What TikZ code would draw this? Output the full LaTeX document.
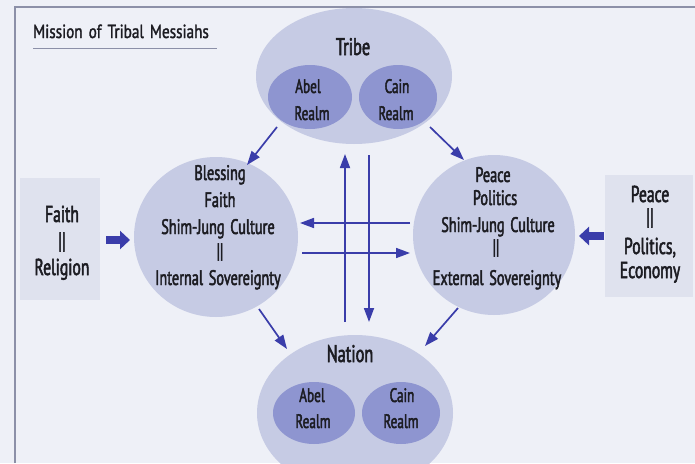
\documentclass[tikz,border=0pt]{standalone}
\usepackage{fontspec}
\setmainfont[FakeStretch=0.68,FakeBold=2.2,WordSpace=1.5]{PT Sans}
\newfontfamily\titlefont[FakeStretch=0.8,FakeBold=1.6,WordSpace=1.5]{PT Sans}
\usetikzlibrary{shapes.geometric,arrows.meta}
\definecolor{bgc}{HTML}{EEF0F7}
\definecolor{bigc}{HTML}{C6CBE4}
\definecolor{innc}{HTML}{8E95D0}
\definecolor{boxc}{HTML}{DFE2EE}
\definecolor{arrc}{HTML}{3A3DAA}
\definecolor{framec}{HTML}{8C90A8}
\definecolor{txtc}{HTML}{1C1C22}
\tikzset{
  big/.style={ellipse,fill=bigc,draw=none,inner sep=0pt},
  inner/.style={ellipse,fill=innc,draw=none,inner sep=0pt},
  lbl/.style={text=txtc,font=\fontsize{21}{25}\selectfont,inner sep=0pt,anchor=base},
  realm/.style={lbl,font=\fontsize{19.5}{25}\selectfont},
  head/.style={lbl,font=\fontsize{24}{28}\selectfont},
  boxtxt/.style={lbl,font=\fontsize{23}{27}\selectfont},
  thin/.style={draw=arrc,line width=1.7pt,-{Triangle[width=10pt,length=14pt]}},
  fat/.style={draw=arrc,line width=8pt,-{Triangle[width=18pt,length=10pt]}},
  boxst/.style={fill=boxc,draw=none,inner sep=0pt}
}
\begin{document}
\begin{tikzpicture}[x=1pt,y=-1pt]
\useasboundingbox (0,0) rectangle (695,463);
\fill[bgc] (0,0) rectangle (695,463);
% frame
\coordinate (fbl) at (15,463);
\coordinate (ftl) at (15,7);
\coordinate (ftr) at (695,7);
\draw[framec,line width=1.2pt] (fbl) -- (ftl) -- (ftr);
% title
\node[lbl,anchor=base west,font=\titlefont\fontsize{19}{22}\selectfont] (title) at (33,38) {Mission of Tribal Messiahs};
\coordinate (ul1) at (33,48);
\coordinate (ul2) at (217,48);
\draw[framec,line width=1pt] (ul1) -- (ul2);
% side boxes
\node[boxst,minimum width=80pt,minimum height=122pt] (fbox) at (60,239) {};
\node[boxtxt] (faith) at (62,222) {Faith};
\node[boxtxt,anchor=center] (fbar) at (62,242) {||};
\node[boxtxt] (relig) at (62,275) {Religion};
\node[boxst,minimum width=88pt,minimum height=122pt] (pbox) at (649,236) {};
\node[boxtxt] (ppeace) at (650,202) {Peace};
\node[boxtxt,anchor=center] (pbar) at (650,218) {||};
\node[boxtxt] (ppol) at (650,254) {Politics,};
\node[boxtxt] (pecon) at (650,278) {Economy};
% big ellipses
\node[big,minimum width=196pt,minimum height=136pt] (tribe) at (354,76) {};
\node[big,minimum width=164pt,minimum height=160pt] (bless) at (216,237) {};
\node[big,minimum width=162pt,minimum height=160pt] (peace) at (494,235) {};
\node[big,minimum width=196pt,minimum height=156pt] (nation) at (355,413) {};
% inner ellipses
\node[inner,minimum width=84pt,minimum height=64pt] (tabel) at (310,97) {};
\node[inner,minimum width=78pt,minimum height=64pt] (tcain) at (398,97) {};
\node[inner,minimum width=82pt,minimum height=62pt] (nabel) at (314,413) {};
\node[inner,minimum width=78pt,minimum height=62pt] (ncain) at (401,413) {};
% labels in ellipses
\node[head] (tribet) at (353,55) {Tribe};
\node[realm] (tabel1) at (308,93) {Abel};
\node[realm] (tabel2) at (312,120) {Realm};
\node[realm] (tcain1) at (397,93) {Cain};
\node[realm] (tcain2) at (396,120) {Realm};
\node[head] (nationt) at (350,362) {Nation};
\node[realm] (nabel1) at (312,402) {Abel};
\node[realm] (nabel2) at (313,428) {Realm};
\node[realm] (ncain1) at (402,402) {Cain};
\node[realm] (ncain2) at (401,428) {Realm};
% blessing text
\node[lbl] (b1) at (220,180) {Blessing};
\node[lbl] (b2) at (220,207) {Faith};
\node[lbl] (b3) at (218,234) {Shim-Jung Culture};
\node[lbl,anchor=center] (b4) at (220,252) {||};
\node[lbl] (b5) at (218,285) {Internal Sovereignty};
% peace text
\node[lbl] (p1) at (493,182) {Peace};
\node[lbl] (p2) at (495,205) {Politics};
\node[lbl] (p3) at (498,232) {Shim-Jung Culture};
\node[lbl,anchor=center] (p4) at (496,248) {||};
\node[lbl] (p5) at (497,285) {External Sovereignty};
% arrow coordinates
\coordinate (c1s) at (277,127); \coordinate (c1e) at (247,165);
\coordinate (c2s) at (430,127); \coordinate (c2e) at (464,160);
\coordinate (c3s) at (259,309); \coordinate (c3e) at (287,349);
\coordinate (c4s) at (458,308); \coordinate (c4e) at (425,346);
\coordinate (ups) at (345,322); \coordinate (upe) at (345,154);
\coordinate (dns) at (369,155); \coordinate (dne) at (369,322);
\coordinate (lfs) at (410,223); \coordinate (lfe) at (300,223);
\coordinate (rts) at (302,253); \coordinate (rte) at (410,253);
\coordinate (fas) at (106,240); \coordinate (fae) at (130,240);
\coordinate (pas) at (604,236); \coordinate (pae) at (579,236);
\draw[thin] (c1s) -- (c1e);
\draw[thin] (c2s) -- (c2e);
\draw[thin] (c3s) -- (c3e);
\draw[thin] (c4s) -- (c4e);
\draw[thin] (ups) -- (upe);
\draw[thin] (dns) -- (dne);
\draw[thin] (lfs) -- (lfe);
\draw[thin] (rts) -- (rte);
\draw[fat] (fas) -- (fae);
\draw[fat] (pas) -- (pae);
\end{tikzpicture}
\end{document}
